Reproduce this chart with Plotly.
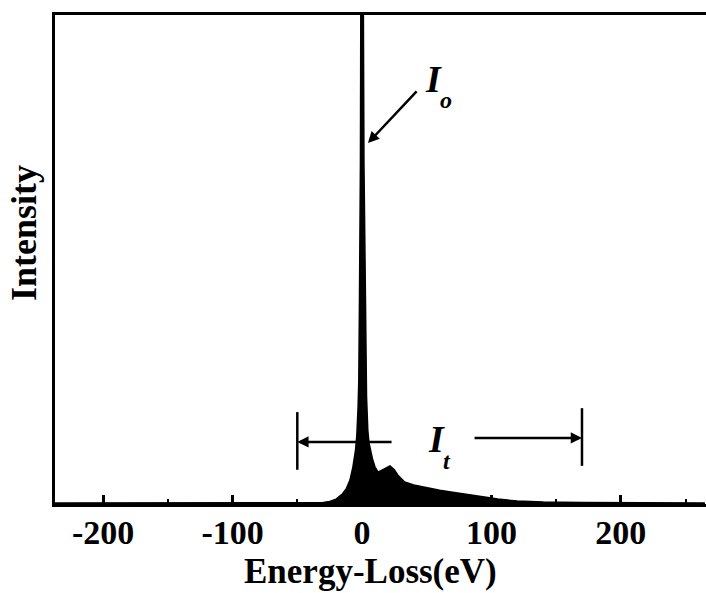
import plotly.graph_objects as go

# Energy-loss spectrum; intensity in arbitrary units (100 = top of frame)
energy = [-240, -40, -30, -25, -20, -15, -12, -9.3, -7, -5, -4, -3, -2.5, -2, -1.2, -0.7,
          0.7, 1.5, 2.5, 3.5, 4.5, 5.4, 8, 10, 12.4, 15, 18, 21.6, 25, 28, 33, 40, 50,
          60, 70, 80, 91, 105, 120, 140, 170, 265]
intensity = [0.2, 0.2, 0.3, 0.5, 1.0, 2.1, 3.2, 4.9, 7.6, 11, 14, 20, 25, 40, 70, 125,
             125, 70, 40, 22, 15, 12.5, 9.3, 7.6, 6.5, 6.8, 7.3, 7.8, 7.0, 5.8, 4.5, 3.9, 3.3,
             2.8, 2.4, 2.0, 1.5, 1.0, 0.6, 0.4, 0.3, 0.2]

major_ticks = [-200, -100, 0, 100, 200]
major_labels = ["-200", "-100", "0", "100", "200"]

x_title = "Energy-Loss(eV)"
y_title = "Intensity"

W, H = 706, 593
L, R, T, B = 55, 0, 15, 89
PW, PH = W - L - R, H - T - B
FONT = "Liberation Serif"


def px(xp):
    return (xp - L) / PW


def py(yp):
    return (H - B - yp) / PH


fig = go.Figure()
fig.add_trace(go.Scatter(
    x=energy, y=intensity, mode="lines", fill="tozeroy",
    fillcolor="black", line=dict(color="black", width=1.5), showlegend=False,
    hoverinfo="skip"))

# Bracket bars for I_t
for xb, y0, y1 in [(-50, 7.0, 18.8), (170, 7.8, 19.6)]:
    fig.add_shape(type="line", x0=xb, x1=xb, y0=y0, y1=y1, xref="x", yref="y",
                  line=dict(color="black", width=2.5))

ann = []
arrow_style = dict(text="", showarrow=True, arrowhead=2, arrowsize=0.9, arrowwidth=2.5,
                   arrowcolor="black", xref="x", yref="y", axref="x", ayref="y")
ann.append(dict(x=4.6, y=73.8, ax=43.3, ay=84.7, **arrow_style))
ann.append(dict(x=-50, y=12.7, ax=24, ay=12.7, **arrow_style))
ann.append(dict(x=170, y=13.5, ax=85.8, ay=13.5, **arrow_style))


def label(text, xc, yc, size, angle=0):
    return dict(text=text, x=px(xc), y=py(yc), xref="paper", yref="paper",
                xanchor="center", yanchor="middle", showarrow=False, textangle=angle,
                borderpad=0,
                font=dict(family=FONT, size=size, color="black", weight="bold"))


ann.append(label("<i>I</i>", 433, 79, 38))
ann.append(label("<i>o</i>", 446, 100, 24))
ann.append(label("<i>I</i>", 436, 439, 38))
ann.append(label("<i>t</i>", 447, 461, 24))
ann.append(label(x_title, 370, 571, 35))
ann.append(label(y_title, 24, 233, 36, angle=-90))

fig.update_layout(
    width=W, height=H, margin=dict(l=L, r=R, t=T, b=B, pad=0),
    paper_bgcolor="white", plot_bgcolor="white",
    annotations=ann, showlegend=False,
    xaxis=dict(range=[(L - 362) / 1.294, (W - 362) / 1.294],
               tickvals=major_ticks, ticktext=major_labels,
               ticks="inside", ticklen=9, tickwidth=2.5, tickcolor="black",
               minor=dict(ticks="inside", ticklen=5, tickwidth=2, tickcolor="black",
                          dtick=50, tick0=0),
               showline=True, linewidth=3, linecolor="black", mirror=True,
               showgrid=False, zeroline=False, ticklabelstandoff=-4,
               tickfont=dict(family=FONT, size=34, color="black", weight="bold")),
    yaxis=dict(range=[0, 100], showline=True, linewidth=3, linecolor="black",
               showticklabels=False, ticks="", showgrid=False, zeroline=False),
)

fig.write_html("out.html")
